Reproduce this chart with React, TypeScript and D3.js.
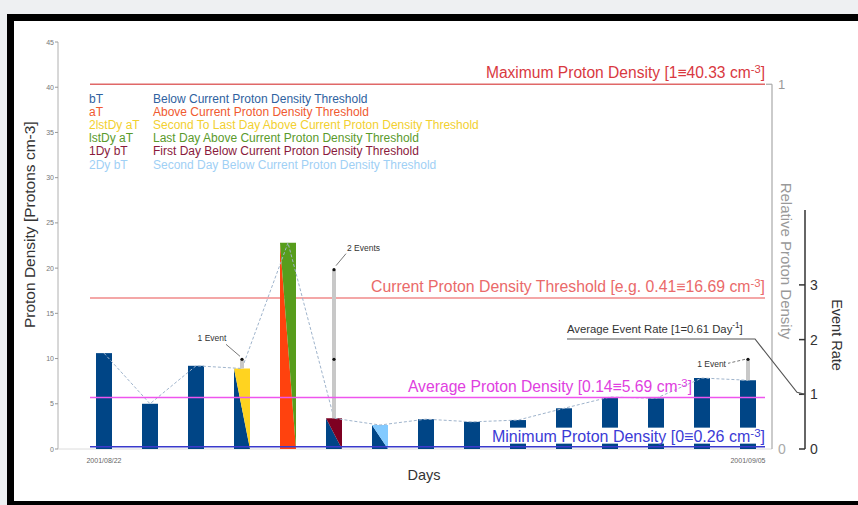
import React, { useLayoutEffect, useRef, useState } from 'react';
import * as d3 from 'd3';

// Daily proton density, 2001/08/22 – 2001/09/05
const dayLabels = [
  '2001/08/22', '2001/08/23', '2001/08/24', '2001/08/25', '2001/08/26',
  '2001/08/27', '2001/08/28', '2001/08/29', '2001/08/30', '2001/08/31',
  '2001/09/01', '2001/09/02', '2001/09/03', '2001/09/04', '2001/09/05',
];
const protonDensity = [10.6, 5.0, 9.2, 8.9, 22.8, 3.4, 2.65, 3.3, 3.0, 3.2, 4.5, 5.75, 5.6, 7.85, 7.6];
// each bar is split diagonally: lower-left triangle / upper-right triangle state
const lowerState = ['bT', 'bT', 'bT', 'bT', 'aT', 'bT', 'bT', 'bT', 'bT', 'bT', 'bT', 'bT', 'bT', 'bT', 'bT'];
const upperState = ['bT', 'bT', 'bT', '2lstDy aT', 'lstDy aT', '1Dy bT', '2Dy bT', 'bT', 'bT', 'bT', 'bT', 'bT', 'bT', 'bT', 'bT'];
const eventCounts = [0, 0, 0, 1, 0, 2, 0, 0, 0, 0, 0, 0, 0, 0, 1];

const legendCodes = ['bT', 'aT', '2lstDy aT', 'lstDy aT', '1Dy bT', '2Dy bT'];
const legendTexts = [
  'Below Current Proton Density Threshold',
  'Above Current Proton Density Threshold',
  'Second To Last Day Above Current Proton Density Threshold',
  'Last Day Above Current Proton Density Threshold',
  'First Day Below Current Proton Density Threshold',
  'Second Day Below Current Proton Density Threshold',
];
const stateColors = ['#004586', '#ff420e', '#ffd320', '#579d1c', '#7e0021', '#83caff'];
const legendTextColors = ['#2f62a0', '#f05a30', '#f2d030', '#5a9a2c', '#8a1a3c', '#9fd0f5'];

const densityMax = 40.33;
const densityThreshold = 16.69;
const densityAvg = 5.69;
const densityMin = 0.26;
const avgEventRate = 0.61;

const densityTicks = [0, 5, 10, 15, 20, 25, 30, 35, 40, 45];
const eventTicks = [0, 1, 2, 3];
const eventAxisTop = 4.37;

const FONT = '"Liberation Sans", Arial, sans-serif';

const stateColor = d3.scaleOrdinal<string, string>().domain(legendCodes).range(stateColors);

export default function App() {
  const minLabelRef = useRef<SVGTextElement>(null);
  const [minBox, setMinBox] = useState<{ x: number; y: number; w: number; h: number } | null>(null);

  useLayoutEffect(() => {
    document.body.style.margin = '0';
    if (minLabelRef.current) {
      const b = minLabelRef.current.getBBox();
      setMinBox({ x: b.x, y: b.y, w: b.width, h: b.height });
    }
  }, []);

  const x = d3.scalePoint<number>().domain(d3.range(dayLabels.length)).range([104, 748]);
  const y = d3.scaleLinear().domain([0, 45]).range([449, 42]);
  const rel = d3.scaleLinear().domain([densityMin, densityMax]).range([0, 1]);
  const yEvent = d3.scaleLinear().domain([0, 1]).range([y(0), 394.3]);
  const barW = 16;
  const lineX0 = 90;
  const lineX1 = 765;
  const relAxisX = 772;
  const eventAxisX = 805;
  const fmt2 = d3.format('.2f');

  const linePath = d3
    .line<number>()
    .x((_, i) => x(i) as number)
    .y((d) => y(d))(protonDensity);

  const sup = (t: string) => (
    <tspan dy={-5} fontSize="0.72em">{t}</tspan>
  );

  // annotation layout for the event counts
  const noteLayout: Record<number, { dx: number; dy: number; anchor: string; l0: [number, number]; l1: [number, number]; dashed?: boolean }> = {
    3: { dx: -30, dy: -18, anchor: 'middle', l0: [-16, -15], l1: [-2, -3] },
    5: { dx: 13, dy: -19, anchor: 'start', l0: [2, -4], l1: [12, -16] },
    14: { dx: -22, dy: 8, anchor: 'end', l0: [-3, 0], l1: [-20, 4], dashed: true },
  };

  return (
    <svg width={858} height={505} style={{ display: 'block', position: 'absolute', left: 0, top: 0 }} fontFamily={FONT}>
      {/* page and frame */}
      <rect x={0} y={0} width={858} height={505} fill="#eef0f2" />
      <rect x={7} y={14} width={851} height={491} fill="#000" />
      <rect x={14} y={21} width={844} height={480} fill="#fff" />

      {/* left density axis */}
      <line x1={58} x2={58} y1={y(45)} y2={y(0)} stroke="#b0b0b0" />
      <line x1={58} x2={relAxisX} y1={y(0)} y2={y(0)} stroke="#dcdcdc" />
      {densityTicks.map((t) => (
        <g key={t}>
          <line x1={55} x2={58} y1={y(t)} y2={y(t)} stroke="#999" />
          <text x={54} y={y(t) + 2.5} fontSize={7} fill="#777" textAnchor="end">{t}</text>
        </g>
      ))}
      <text transform={`translate(35,${y(24.8)}) rotate(-90)`} fontSize={15.5} fill="#333" textAnchor="middle">
        Proton Density [Protons cm-3]
      </text>

      {/* date labels */}
      <text x={x(0)} y={463} fontSize={7} fill="#666" textAnchor="middle">{dayLabels[0]}</text>
      <text x={x(dayLabels.length - 1)} y={463} fontSize={7} fill="#666" textAnchor="middle">{dayLabels[dayLabels.length - 1]}</text>
      <text x={424} y={480} fontSize={14.5} fill="#333" textAnchor="middle">Days</text>

      {/* maximum and threshold lines */}
      <line x1={lineX0} x2={lineX1} y1={y(densityMax)} y2={y(densityMax)} stroke="#e06868" strokeWidth={1.5} />
      <text x={lineX1} y={y(densityMax) - 6} fontSize={15.6} fill="#d9393f" textAnchor="end">
        Maximum Proton Density [1≡{fmt2(densityMax)} cm{sup('-3')}<tspan dy={5}>]</tspan>
      </text>
      <line x1={lineX0} x2={lineX1} y1={y(densityThreshold)} y2={y(densityThreshold)} stroke="#f08a8a" strokeWidth={1.5} />
      <text x={lineX1} y={y(densityThreshold) - 6} fontSize={15.8} fill="#ea6a6a" textAnchor="end">
        Current Proton Density Threshold [e.g. {fmt2(rel(densityThreshold))}≡{fmt2(densityThreshold)} cm{sup('-3')}<tspan dy={5}>]</tspan>
      </text>

      {/* legend */}
      {legendCodes.map((c, i) => (
        <g key={c}>
          <text x={89} y={103 + i * 13.1} fontSize={12} fill={legendTextColors[i]}>{c}</text>
          <text x={153} y={103 + i * 13.1} fontSize={12} fill={legendTextColors[i]}>{legendTexts[i]}</text>
        </g>
      ))}

      {/* bars */}
      {protonDensity.map((v, i) => {
        const cx = x(i) as number;
        const x0 = cx - barW / 2;
        const x1 = cx + barW / 2;
        const top = y(v);
        const bot = y(0);
        if (lowerState[i] === upperState[i]) {
          return <rect key={i} x={x0} y={top} width={barW} height={bot - top} fill={stateColor(lowerState[i])} />;
        }
        return (
          <g key={i}>
            <polygon points={`${x0},${top} ${x0},${bot} ${x1},${bot}`} fill={stateColor(lowerState[i])} />
            <polygon points={`${x0},${top} ${x1},${top} ${x1},${bot}`} fill={stateColor(upperState[i])} />
          </g>
        );
      })}

      {/* connecting line through bar tops */}
      <path d={linePath ?? ''} fill="none" stroke="#9fb4cc" strokeWidth={1} strokeDasharray="3,2" />

      {/* event markers */}
      {eventCounts.map((n, i) => {
        if (!n) return null;
        const cx = x(i) as number;
        const topY = yEvent(n / avgEventRate);
        const barTop = y(protonDensity[i]);
        const lay = noteLayout[i];
        return (
          <g key={i}>
            <rect x={cx - 2} y={topY} width={4} height={Math.max(0, barTop - topY)} fill="#c8c8c8" />
            {d3.range(1, n + 1).map((k) => (
              <circle key={k} cx={cx} cy={yEvent(k / avgEventRate)} r={1.6} fill="#111" />
            ))}
            {lay && (
              <>
                <line
                  x1={cx + lay.l0[0]} y1={topY + lay.l0[1]} x2={cx + lay.l1[0]} y2={topY + lay.l1[1]}
                  stroke="#555" strokeWidth={0.8} strokeDasharray={lay.dashed ? '3,2' : undefined}
                />
                <text x={cx + lay.dx} y={topY + lay.dy} fontSize={8.5} fill="#333" textAnchor={lay.anchor as any}>
                  {n} {n === 1 ? 'Event' : 'Events'}
                </text>
              </>
            )}
          </g>
        );
      })}

      {/* average density line */}
      <line x1={lineX0} x2={lineX1} y1={y(densityAvg)} y2={y(densityAvg)} stroke="#ee55ee" strokeWidth={1.5} />
      <text x={692} y={y(densityAvg) - 6} fontSize={15.7} fill="#e040e0" textAnchor="end">
        Average Proton Density [{fmt2(rel(densityAvg))}≡{fmt2(densityAvg)} cm{sup('-3')}<tspan dy={5}>]</tspan>
      </text>

      {/* minimum density line with label on a white box */}
      {minBox && <rect x={minBox.x} y={minBox.y + 1} width={minBox.w} height={minBox.h - 2} fill="#fff" />}
      <line x1={lineX0} x2={lineX1} y1={y(densityMin)} y2={y(densityMin)} stroke="#3a3acc" strokeWidth={1.5} />
      <text ref={minLabelRef} x={lineX1} y={y(densityMin) - 5} fontSize={16} fill="#3b3bd6" textAnchor="end">
        Minimum Proton Density [0≡{fmt2(densityMin)} cm{sup('-3')}<tspan dy={5}>]</tspan>
      </text>

      {/* relative density axis */}
      <line x1={relAxisX} x2={relAxisX} y1={y(densityMax)} y2={y(0)} stroke="#a8a8a8" strokeWidth={1.2} />
      <line x1={relAxisX - 6} x2={relAxisX} y1={y(densityMax)} y2={y(densityMax)} stroke="#a8a8a8" strokeWidth={1.2} />
      <text x={relAxisX + 6} y={y(densityMax) + 5} fontSize={13} fill="#999">1</text>
      <text x={relAxisX + 6} y={y(0) + 5} fontSize={14} fill="#aaa">0</text>
      <text transform={`translate(781,${261}) rotate(90)`} fontSize={15} fill="#999" textAnchor="middle">
        Relative Proton Density
      </text>

      {/* event rate axis */}
      <line x1={eventAxisX} x2={eventAxisX} y1={yEvent(eventAxisTop)} y2={yEvent(0)} stroke="#333" strokeWidth={1.5} />
      {eventTicks.map((t) => (
        <g key={t}>
          <line x1={eventAxisX - 6} x2={eventAxisX} y1={yEvent(t)} y2={yEvent(t)} stroke="#333" strokeWidth={1.5} />
          <text x={eventAxisX + 5} y={yEvent(t) + 5} fontSize={14} fill="#333">{t}</text>
        </g>
      ))}
      <text transform={`translate(832,${335}) rotate(90)`} fontSize={14.5} fill="#333" textAnchor="middle">
        Event Rate
      </text>

      {/* average event rate annotation */}
      <text x={567} y={333} fontSize={11.3} fill="#333">
        Average Event Rate [1={fmt2(avgEventRate)} Day{sup('-1')}<tspan dy={5}>]</tspan>
      </text>
      <polyline
        points={`567,339 755,339 797,${yEvent(1) - 2} ${eventAxisX},${yEvent(1)}`}
        fill="none" stroke="#555" strokeWidth={1.2}
      />
    </svg>
  );
}
